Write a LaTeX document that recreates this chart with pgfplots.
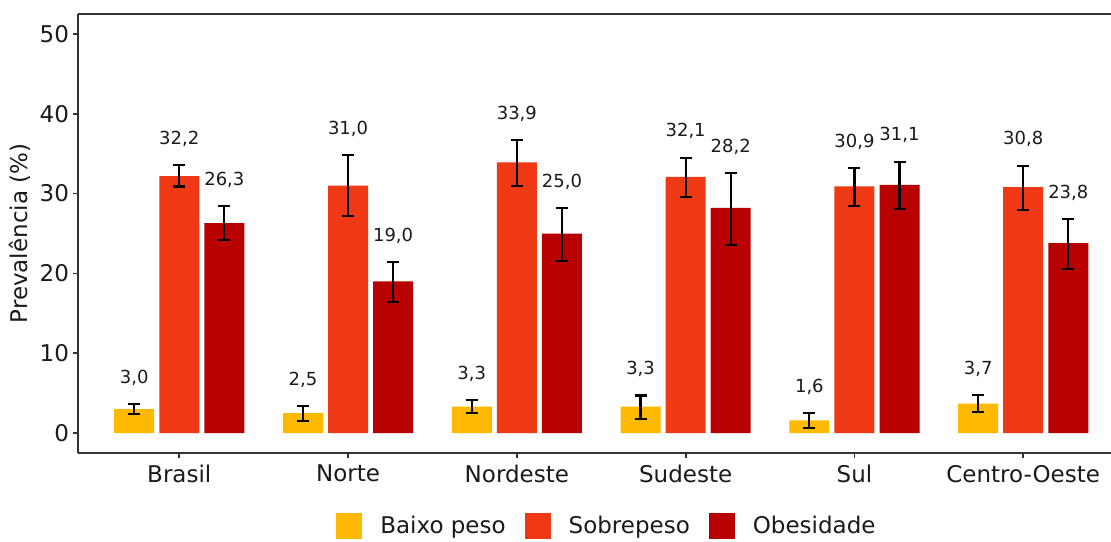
\documentclass[border=0pt]{standalone}
\usepackage{fontspec}
\setmainfont{DejaVu Sans}
\usepackage{pgfplots}
\usepackage{pgfplotstable}
\pgfplotsset{compat=1.18}
\definecolor{cBaixo}{HTML}{FFB900}
\definecolor{cSobre}{HTML}{EE3914}
\definecolor{cObes}{HTML}{B80000}
\definecolor{txt}{HTML}{1A1A1A}
\definecolor{axc}{HTML}{333333}

\pgfplotstableread{
x y ep em ly lab
1 3.0 0.6 0.6 6.9 3,0
2 2.5 0.9 1.0 6.7 2,5
3 3.3 0.8 0.8 7.4 3,3
4 3.3 1.4 1.5 8.0 3,3
5 1.6 0.9 1.0 5.8 1,6
6 3.7 1.1 1.1 8.1 3,7
}\baixo
\pgfplotstableread{
x y ep em ly lab
1 32.2 1.4 1.3 36.9 32,2
2 31.0 3.8 3.8 38.1 31,0
3 33.9 2.8 2.9 40.0 33,9
4 32.1 2.4 2.5 37.8 32,1
5 30.9 2.3 2.5 36.5 30,9
6 30.8 2.7 2.9 36.8 30,8
}\sobre
\pgfplotstableread{
x y ep em ly lab
1 26.3 2.1 2.1 31.7 26,3
2 19.0 2.4 2.6 24.7 19,0
3 25.0 3.2 3.4 31.5 25,0
4 28.2 4.4 4.6 35.9 28,2
5 31.1 2.9 3.0 37.3 31,1
6 23.8 3.0 3.2 30.1 23,8
}\obes

\begin{document}
\begin{tikzpicture}
\begin{axis}[
  at={(0,0)}, anchor=south west,
  scale only axis, width=516.5pt, height=219.5pt,
  xmin=0.4, xmax=6.52, ymin=-2.5, ymax=52.5,
  axis x line=box, axis y line=left,
  axis line style={axc, line width=0.9pt, -},
  y axis line style={-},
  xtick={1,2,3,4,5,6},
  xticklabels={Brasil,Norte,Nordeste,Sudeste,Sul,Centro-Oeste},
  ytick={0,10,20,30,40,50},
  xtick pos=left, ytick pos=left,
  tick align=outside, major tick length=2.5pt,
  tick style={axc, line width=0.9pt},
  tick label style={font=\fontsize{11.5}{13}\selectfont, text=txt},
  yticklabel style={xshift=1.5pt},
  /pgf/number format/assume math mode=true,
  ylabel={Prevalência (\%)},
  every axis y label/.style={at={(rel axis cs:0,0.5)}, xshift=-29pt, rotate=90, anchor=center, font=\fontsize{11.5}{13}\selectfont, text=txt},
  legend style={at={(0.513,-0.166)}, anchor=center, draw=none, fill=none,
    legend columns=-1, font=\fontsize{11.5}{13}\selectfont, text=txt,
    /tikz/every even column/.append style={column sep=7.5pt}},
  legend image code/.code={\fill[#1, draw=none] (0pt,-6.5pt) rectangle (13pt,6.5pt); \path (20pt,0pt);},
  error bars/error bar style={line width=1.1pt, black},
  error bars/error mark options={line width=1.1pt, black, mark size=3pt, rotate=90},
  label nodes/.style={draw=none, mark=none, forget plot,
    nodes near coords, point meta=explicit symbolic,
    every node near coord/.style={anchor=center, font=\fontsize{9}{10}\selectfont, text=txt}},
]
\addplot[ybar, bar width=0.237, bar shift=0pt, fill=cBaixo, draw=none,
  error bars/.cd, y dir=both, y explicit]
  table[x expr=\thisrow{x}-0.267, y=y, y error plus=ep, y error minus=em]{\baixo};
\addlegendentry{Baixo peso}
\addplot[ybar, bar width=0.237, bar shift=0pt, fill=cSobre, draw=none,
  error bars/.cd, y dir=both, y explicit]
  table[x=x, y=y, y error plus=ep, y error minus=em]{\sobre};
\addlegendentry{Sobrepeso}
\addplot[ybar, bar width=0.237, bar shift=0pt, fill=cObes, draw=none,
  error bars/.cd, y dir=both, y explicit]
  table[x expr=\thisrow{x}+0.267, y=y, y error plus=ep, y error minus=em]{\obes};
\addlegendentry{Obesidade}
\addplot[label nodes] table[x expr=\thisrow{x}-0.267, y=ly, meta=lab]{\baixo};
\addplot[label nodes] table[x=x, y=ly, meta=lab]{\sobre};
\addplot[label nodes] table[x expr=\thisrow{x}+0.267, y=ly, meta=lab]{\obes};
\end{axis}
\pgfresetboundingbox
\path[use as bounding box] (-39pt,-44pt) rectangle (516.5pt,226.5pt);
\end{tikzpicture}
\end{document}
